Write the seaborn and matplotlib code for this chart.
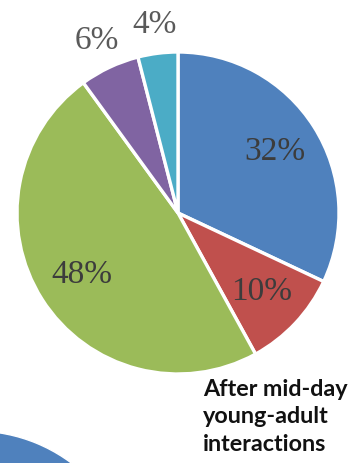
import numpy as np
import matplotlib
matplotlib.use("Agg")
import matplotlib.pyplot as plt
import seaborn as sns

# slice shares, clockwise from 12 o'clock
shares = [32, 10, 48, 6, 4]
slice_colors = ["#4F81BD", "#C0504D", "#9BBB59", "#8064A2", "#4BACC6"]
outside = [False, False, False, True, True]

caption = "After mid-day\nyoung-adult\ninteractions"

# the next pie down, only its blue edge shows in the crop
lower_shares = [100]
lower_colors = ["#4F81BD"]

sns.set_theme(style="white")

W, H = 350, 463
fig = plt.figure(figsize=(W / 100, H / 100), dpi=100)


def px_axes(cx, cy, r):
    # square axes centred on (cx, cy) in pixels measured from the top-left
    return fig.add_axes([(cx - r) / W, (H - cy - r) / H, 2 * r / W, 2 * r / H])


ax = px_axes(178, 213, 161)
wedges, _, pcts = ax.pie(
    shares, colors=slice_colors, startangle=90, counterclock=False,
    autopct="%d%%", pctdistance=0.71,
    wedgeprops=dict(edgecolor="white", linewidth=2.4),
    textprops=dict(family="Liberation Serif", fontsize=24, color="#3c3c3c"),
)
for w, t, out in zip(wedges, pcts, outside):
    if out:
        mid = np.deg2rad((w.theta1 + w.theta2) / 2)
        t.set_position((1.18 * np.cos(mid), 1.18 * np.sin(mid)))
        t.set_color("#5a5a5a")
ax.set_xlim(-1, 1)
ax.set_ylim(-1, 1)
ax.axis("off")

ax2 = px_axes(-25, 592, 161)
ax2.pie(lower_shares, colors=lower_colors, startangle=90, counterclock=False)
ax2.set_xlim(-1, 1)
ax2.set_ylim(-1, 1)
ax2.axis("off")

fig.text(203 / W, 1 - 379 / H, caption, ha="left", va="top",
         family="Lato", fontweight="bold", fontsize=16.8,
         color="#111111", linespacing=1.38)

fig.savefig("out.png", dpi=100)
